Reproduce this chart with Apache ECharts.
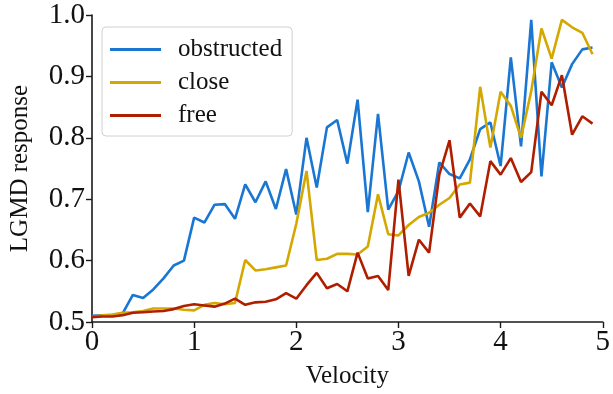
<!DOCTYPE html>
<html>
<head>
<meta charset="utf-8">
<script src="https://cdn.jsdelivr.net/npm/echarts@6/dist/echarts.min.js"></script>
<style>html,body{margin:0;padding:0;background:#fff}#c{width:613px;height:394px}</style>
</head>
<body>
<div id="c"></div>
<script>
var velocity = [0.0,0.1,0.2,0.3,0.4,0.5,0.6,0.7,0.8,0.9,1.0,1.1,1.2,1.3,1.4,1.5,1.6,1.7,1.8,1.9,2.0,2.1,2.2,2.3,2.4,2.5,2.6,2.7,2.8,2.9,3.0,3.1,3.2,3.3,3.4,3.5,3.6,3.7,3.8,3.9,4.0,4.1,4.2,4.3,4.4,4.5,4.6,4.7,4.8,4.9];
var obstructed = [0.510,0.511,0.511,0.514,0.544,0.539,0.553,0.571,0.592,0.600,0.670,0.662,0.691,0.692,0.668,0.724,0.695,0.729,0.684,0.749,0.675,0.800,0.719,0.817,0.829,0.758,0.862,0.679,0.839,0.683,0.713,0.776,0.729,0.655,0.760,0.741,0.734,0.765,0.814,0.825,0.754,0.931,0.786,0.992,0.737,0.923,0.882,0.920,0.944,0.947];
var close = [0.508,0.511,0.512,0.515,0.516,0.518,0.522,0.522,0.522,0.520,0.519,0.528,0.531,0.529,0.531,0.601,0.584,0.586,0.589,0.592,0.660,0.746,0.601,0.603,0.611,0.611,0.610,0.623,0.708,0.643,0.641,0.658,0.671,0.678,0.691,0.702,0.724,0.727,0.883,0.784,0.875,0.852,0.800,0.876,0.978,0.929,0.992,0.980,0.971,0.936];
var free = [0.508,0.509,0.509,0.511,0.515,0.516,0.517,0.518,0.521,0.526,0.529,0.527,0.525,0.530,0.538,0.528,0.532,0.533,0.537,0.547,0.538,0.560,0.580,0.555,0.562,0.550,0.613,0.571,0.575,0.552,0.732,0.575,0.634,0.613,0.740,0.796,0.670,0.693,0.672,0.762,0.740,0.767,0.728,0.744,0.875,0.853,0.902,0.805,0.835,0.823];
var seriesNames = ['obstructed','close','free'];
var colors = ['#1976D2','#D4A800','#B01E00'];
var xTicks = [0,1,2,3,4,5];
var yTicks = [0.5,0.6,0.7,0.8,0.9,1.0];

function pairs(ys){ return velocity.map(function(v,i){ return [v, ys[i]]; }); }
var font = 'Liberation Serif';
var axisCol = '#1a1a1a';
var chart = echarts.init(document.getElementById('c'), null, {renderer:'canvas'});
chart.setOption({
  animation: false,
  backgroundColor: '#fff',
  color: colors,
  grid: {left: 90, right: 10, top: 15, bottom: 72, containLabel: false},
  legend: {
    left: 102, top: 27, orient: 'vertical',
    data: seriesNames.map(function(n){ return {name: n, icon: 'rect'}; }),
    itemWidth: 51, itemHeight: 3, itemGap: 8,
    padding: [10, 10, 8, 8],
    borderColor: '#d0d0d0', borderWidth: 1, borderRadius: 4,
    backgroundColor: '#fff',
    textStyle: {fontFamily: font, fontSize: 25, color: '#111', padding: [0,0,0,12]}
  },
  xAxis: {
    type: 'value', min: xTicks[0], max: xTicks[xTicks.length-1], interval: 1,
    name: 'Velocity', nameLocation: 'middle', nameGap: 42,
    nameTextStyle: {fontFamily: font, fontSize: 25, color: '#111'},
    axisLine: {show: true, lineStyle: {color: axisCol, width: 1.6}},
    axisTick: {show: true, inside: false, length: 6, lineStyle: {color: axisCol, width: 1.4}},
    axisLabel: {fontFamily: font, fontSize: 29, color: '#111', margin: 6},
    splitLine: {show: false}
  },
  yAxis: {
    type: 'value', min: yTicks[0], max: yTicks[yTicks.length-1], interval: 0.1,
    name: 'LGMD response', nameLocation: 'middle', nameGap: 59, nameRotate: 90,
    nameTextStyle: {fontFamily: font, fontSize: 25, color: '#111'},
    axisLine: {show: true, onZero: false, lineStyle: {color: axisCol, width: 1.6}},
    axisTick: {show: true, inside: false, length: 6, lineStyle: {color: axisCol, width: 1.4}},
    axisLabel: {fontFamily: font, fontSize: 29, color: '#111', margin: 7,
      formatter: function(v){ return v.toFixed(1); }},
    splitLine: {show: false}
  },
  series: [
    {name: seriesNames[0], type: 'line', data: pairs(obstructed), symbol: 'none', lineStyle: {width: 2.6, color: colors[0]}, z: 3},
    {name: seriesNames[1], type: 'line', data: pairs(close), symbol: 'none', lineStyle: {width: 2.6, color: colors[1]}, z: 4},
    {name: seriesNames[2], type: 'line', data: pairs(free), symbol: 'none', lineStyle: {width: 2.6, color: colors[2]}, z: 5}
  ]
});
</script>
</body>
</html>
